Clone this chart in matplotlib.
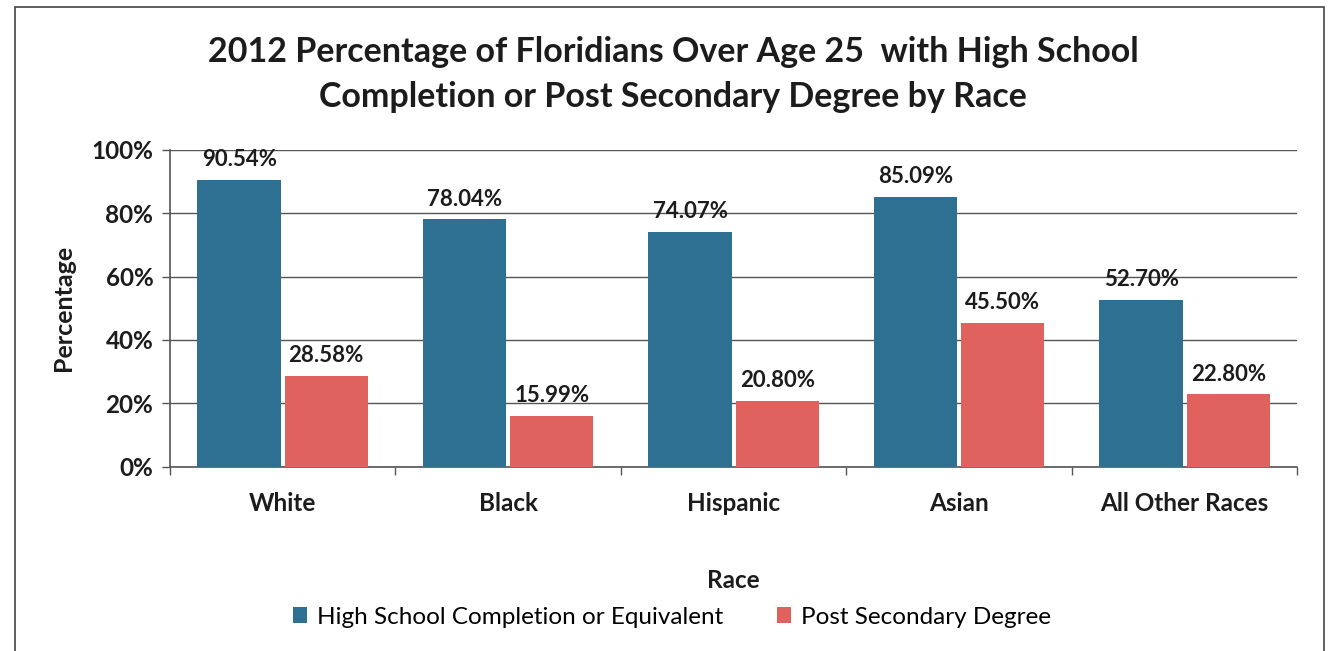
import matplotlib
matplotlib.use("Agg")
import matplotlib.pyplot as plt
import numpy as np
from matplotlib.patches import Rectangle
from matplotlib.ticker import FuncFormatter, FixedLocator

plt.rcParams['font.family'] = ['Lato', 'DejaVu Sans']

races = ["White", "Black", "Hispanic", "Asian", "All Other Races"]
high_school = [90.54, 78.04, 74.07, 85.09, 52.70]
post_secondary = [28.58, 15.99, 20.80, 45.50, 22.80]
series_names = ["High School Completion or Equivalent", "Post Secondary Degree"]
y_ticks = [0, 20, 40, 60, 80, 100]

blue = "#2d7092"
red = "#e0625f"
grid_col = "#555555"
text_col = "#1c1c1c"

fig = plt.figure(figsize=(13.28, 6.51), dpi=100)
ax = fig.add_axes([0.128, 0.283, 0.849, 0.487])

x = np.arange(len(races))
w = 0.37
off = 0.193
b1 = ax.bar(x - off, high_school, w, color=blue, label=series_names[0], zorder=3)
b2 = ax.bar(x + off, post_secondary, w, color=red, label=series_names[1], zorder=3)

for bars, vals in ((b1, high_school), (b2, post_secondary)):
    for r, v in zip(bars, vals):
        ax.annotate(f"{v:.2f}%", (r.get_x() + r.get_width() / 2, v),
                    xytext=(0, 7), textcoords="offset points",
                    ha="center", va="bottom", fontsize=16, fontweight="bold",
                    color=text_col, zorder=4)

ax.set_xlim(-0.5, len(races) - 0.5)
ax.set_ylim(0, 100)
ax.set_yticks(y_ticks)
ax.yaxis.set_major_formatter(FuncFormatter(lambda v, p: f"{v:.0f}%"))
ax.grid(axis="y", color=grid_col, linewidth=1.0, zorder=0)
ax.set_xticks(x)
ax.set_xticklabels(races, fontsize=17.5, fontweight="bold", color=text_col)
ax.xaxis.set_minor_locator(FixedLocator(np.arange(-0.5, len(races), 1)))
ax.tick_params(axis="x", which="major", length=0, pad=18)
ax.tick_params(axis="x", which="minor", length=6, width=1, color=grid_col, direction="out")
ax.tick_params(axis="y", length=6, width=1, color=grid_col, labelsize=17.5, pad=6)
for lbl in ax.get_yticklabels():
    lbl.set_fontweight("bold")
    lbl.set_color(text_col)

for s in ("top", "right"):
    ax.spines[s].set_visible(False)
for s in ("left", "bottom"):
    ax.spines[s].set_color(grid_col)
    ax.spines[s].set_linewidth(1.2)

ax.set_ylabel("Percentage", fontsize=18, fontweight="bold", labelpad=12, color=text_col)
ax.set_xlabel("Race", fontsize=17.5, fontweight="bold", labelpad=39, color=text_col)

fig.text(0.507, 0.885, "2012 Percentage of Floridians Over Age 25  with High School\n"
         "Completion or Post Secondary Degree by Race",
         ha="center", va="center", fontsize=24.5, fontweight="bold",
         color=text_col, linespacing=1.5)

fig.legend(handles=[b1, b2], labels=series_names, loc="center",
           bbox_to_anchor=(0.506, 0.052), ncol=2, frameon=False,
           fontsize=17.5, handlelength=0.6, handleheight=0.6,
           columnspacing=2.2, handletextpad=0.4)

fig.patches.append(Rectangle((0.011, -0.01), 0.986, 1.0, transform=fig.transFigure,
                             fill=False, edgecolor="#444444", linewidth=1.2))

fig.savefig("out.png", dpi=100)
